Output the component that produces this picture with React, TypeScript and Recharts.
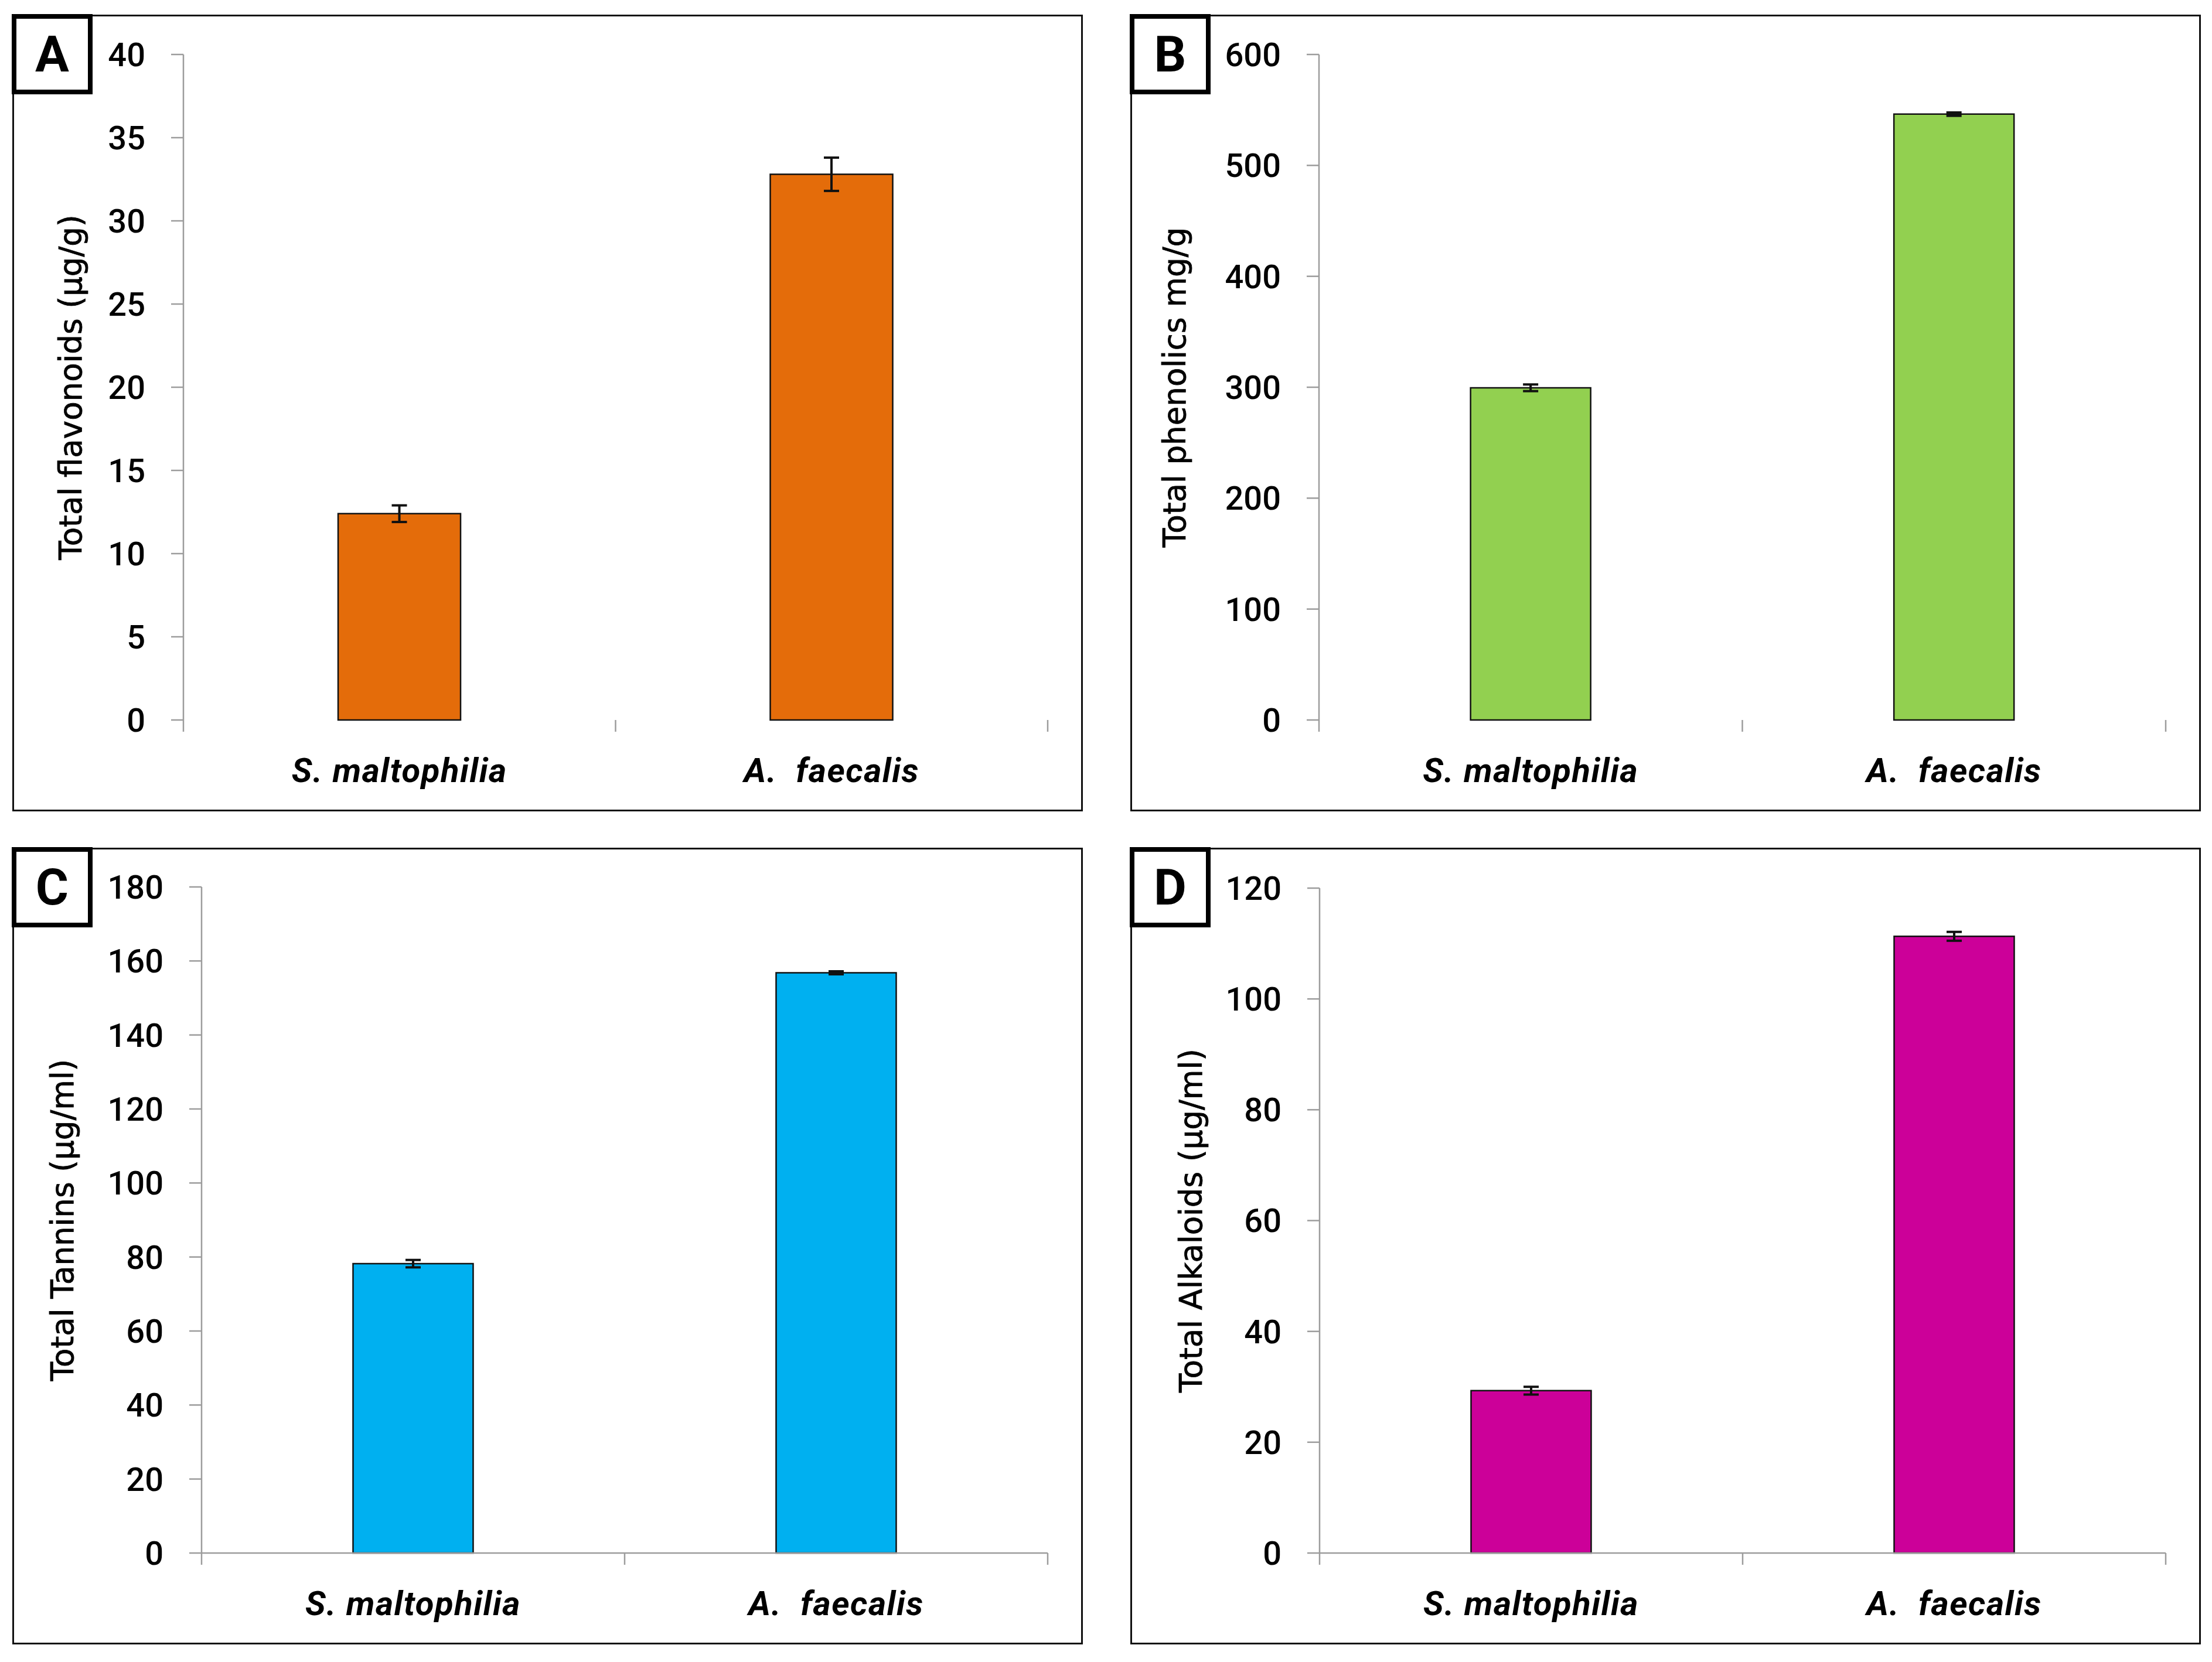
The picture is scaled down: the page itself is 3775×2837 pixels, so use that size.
import React from "react";
import { Bar, BarChart, ErrorBar, XAxis, YAxis } from "recharts";

const strains = ["S. maltophilia", "A.  faecalis"];

const flavonoids = [12.4, 32.8];
const flavonoidsErr = [0.5, 1.0];
const phenolics = [299.5, 546.2];
const phenolicsErr = [3, 1.5];
const tannins = [78.2, 156.8];
const tanninsErr = [1.0, 0.4];
const alkaloids = [29.3, 111.3];
const alkaloidsErr = [0.7, 0.8];

const flavonoidTicks = [0, 5, 10, 15, 20, 25, 30, 35, 40];
const phenolicTicks = [0, 100, 200, 300, 400, 500, 600];
const tanninTicks = [0, 20, 40, 60, 80, 100, 120, 140, 160, 180];
const alkaloidTicks = [0, 20, 40, 60, 80, 100, 120];

const AXIS_GREY = "#9c9c9c";
const PANEL_W = 1827;
const PANEL_H = 1360;
const BORDER = 3;
const INNER_W = PANEL_W - 2 * BORDER;
const INNER_H = PANEL_H - 2 * BORDER;

function StrainTick(props: any) {
  const { x, y, payload, index } = props;
  const half = payload && payload.offset ? payload.offset : 0;
  return (
    <g>
      <line x1={x + half} x2={x + half} y1={y} y2={y + 20} stroke={AXIS_GREY} strokeWidth={2.5} />
      {index === 0 && (
        <line x1={x - half} x2={x - half} y1={y} y2={y + 20} stroke={AXIS_GREY} strokeWidth={2.5} />
      )}
      <text
        x={x}
        y={y + 86}
        textAnchor="middle"
        dominantBaseline="central"
        fontFamily="Roboto, sans-serif"
        fontWeight="bold"
        fontStyle="italic"
        fontSize={58}
        letterSpacing={1.5}
        fill="#000"
        style={{ whiteSpace: "pre" }}
      >
        {payload.value}
      </text>
    </g>
  );
}

type PanelProps = {
  letter: string;
  title: string;
  values: number[];
  errors: number[];
  ticks: number[];
  color: string;
  left: number;
  top: number;
  axisX: number;
  titleX: number;
  plotTop: number;
  xLine: boolean;
};

function Panel(p: PanelProps) {
  const data = strains.map((name, i) => ({ name, value: p.values[i], err: p.errors[i] }));
  const bottom = 153;
  const YTitle = (lp: any) => {
    const vb = lp.viewBox || {};
    const cy = vb.y + vb.height / 2;
    return (
      <text
        x={p.titleX}
        y={cy}
        transform={`rotate(-90 ${p.titleX} ${cy})`}
        textAnchor="middle"
        dominantBaseline="central"
        fontFamily="'DejaVu Sans', sans-serif"
        fontSize={53}
        fill="#000"
        stroke="#000"
        strokeWidth={0.8}
      >
        {p.title}
      </text>
    );
  };
  return (
    <div
      style={{
        position: "absolute",
        left: p.left,
        top: p.top,
        width: PANEL_W,
        height: PANEL_H,
        boxSizing: "border-box",
        border: `${BORDER}px solid #111`,
        background: "#fff",
      }}
    >
      <BarChart
        width={INNER_W}
        height={INNER_H}
        data={data}
        margin={{ top: p.plotTop, right: INNER_W - 1764, bottom: 0, left: 0 }}
        barCategoryGap="35.8%"
      >
        <XAxis
          dataKey="name"
          interval={0}
          height={bottom}
          tickLine={false}
          tickSize={0}
          tickMargin={0}
          axisLine={p.xLine ? { stroke: AXIS_GREY, strokeWidth: 2.5 } : false}
          tick={<StrainTick />}
        />
        <YAxis
          type="number"
          domain={[0, p.ticks[p.ticks.length - 1]]}
          ticks={p.ticks}
          interval={0}
          width={p.axisX}
          tickSize={21}
          tickMargin={44}
          axisLine={{ stroke: AXIS_GREY, strokeWidth: 2.5 }}
          tickLine={{ stroke: AXIS_GREY, strokeWidth: 2.5 }}
          tick={{ fontFamily: "Roboto, sans-serif", fontSize: 56, fontWeight: 500, fill: "#000" }}
          label={<YTitle />}
        />
        <Bar dataKey="value" fill={p.color} stroke="#111" strokeWidth={2.5} isAnimationActive={false}>
          <ErrorBar dataKey="err" direction="y" width={13} stroke="#111" strokeWidth={4} isAnimationActive={false} />
        </Bar>
      </BarChart>
      <div
        style={{
          position: "absolute",
          left: -BORDER - 1,
          top: -BORDER - 1,
          width: 138,
          height: 137,
          boxSizing: "border-box",
          border: "8px solid #000",
          background: "#fff",
          display: "flex",
          alignItems: "center",
          justifyContent: "center",
          fontFamily: "Roboto, sans-serif",
          fontWeight: "bold",
          fontSize: 86,
          color: "#000",
          lineHeight: 1,
        }}
      >
        {p.letter}
      </div>
    </div>
  );
}

export default function App() {
  return (
    <div style={{ position: "absolute", left: 0, top: 0, width: 3775, height: 2837, background: "#fff" }}>
      <Panel
        letter="A"
        title="Total flavonoids (µg/g)"
        values={flavonoids}
        errors={flavonoidsErr}
        ticks={flavonoidTicks}
        color="#E46C0A"
        left={21}
        top={25}
        axisX={289}
        titleX={96}
        plotTop={65}
        xLine={false}
      />
      <Panel
        letter="B"
        title="Total phenolics mg/g"
        values={phenolics}
        errors={phenolicsErr}
        ticks={phenolicTicks}
        color="#92D050"
        left={1929}
        top={25}
        axisX={319}
        titleX={72}
        plotTop={65}
        xLine={false}
      />
      <Panel
        letter="C"
        title="Total Tannins (µg/ml)"
        values={tannins}
        errors={tanninsErr}
        ticks={tanninTicks}
        color="#00B0F0"
        left={21}
        top={1447}
        axisX={320}
        titleX={82}
        plotTop={64}
        xLine={true}
      />
      <Panel
        letter="D"
        title="Total Alkaloids (µg/ml)"
        values={alkaloids}
        errors={alkaloidsErr}
        ticks={alkaloidTicks}
        color="#CC0099"
        left={1929}
        top={1447}
        axisX={320}
        titleX={100}
        plotTop={66}
        xLine={true}
      />
    </div>
  );
}
